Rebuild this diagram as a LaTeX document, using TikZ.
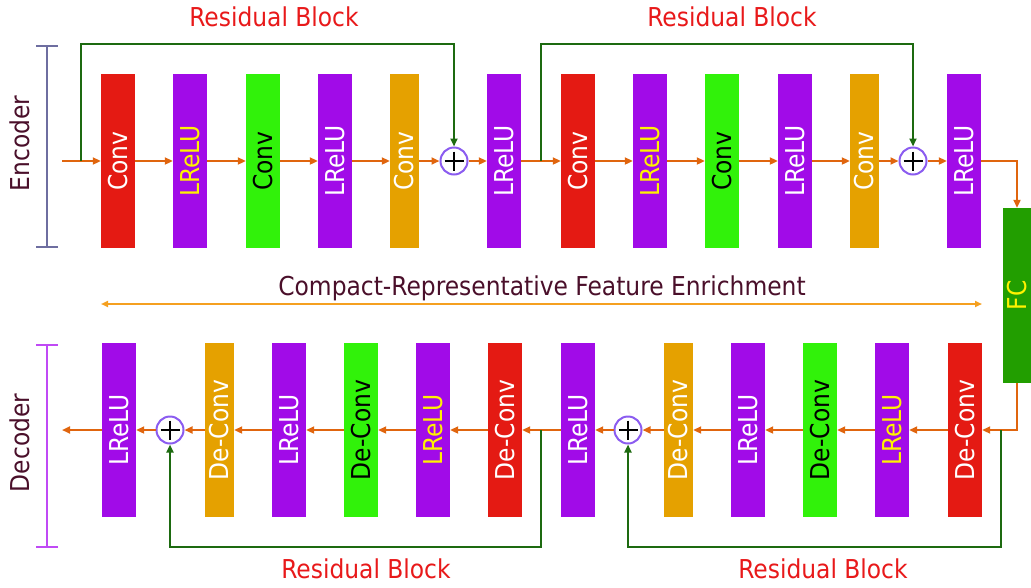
\documentclass[tikz,border=0pt]{standalone}
\usepackage{fontspec}
\setmainfont{DejaVu Sans Condensed}
\usetikzlibrary{arrows.meta}

\definecolor{convred}{HTML}{E41A13}
\definecolor{actpurple}{HTML}{A10BE8}
\definecolor{convgreen}{HTML}{31F20A}
\definecolor{convorange}{HTML}{E5A100}
\definecolor{fcgreen}{HTML}{229E00}
\definecolor{flowor}{HTML}{E0650E}
\definecolor{skipgreen}{HTML}{1D6A10}
\definecolor{sumblue}{HTML}{8B5CF0}
\definecolor{encbar}{HTML}{6E6EA0}
\definecolor{decbar}{HTML}{C04AF5}
\definecolor{enrichor}{HTML}{F5A020}
\definecolor{labelred}{HTML}{E8191A}
\definecolor{textmaroon}{HTML}{4A0F2A}

\begin{document}
\begin{tikzpicture}[x=1pt, y=-1pt, font=\fontsize{26}{30}\selectfont]
		\tikzstyle{Layer}	= [rectangle, rotate=90, minimum width=174pt, minimum height=34pt, inner sep=0pt, text=white]
		\tikzstyle{Red}		= [fill=convred]
		\tikzstyle{Purple}	= [fill=actpurple]
		\tikzstyle{Green}	= [fill=convgreen, text=black]
		\tikzstyle{Orange}	= [fill=convorange, minimum height=29pt]
		\tikzstyle{Yel}		= [text=yellow]
		\tikzstyle{Sum}		= [circle, draw=sumblue, line width=2pt, fill=white, minimum size=27pt, inner sep=0pt,
					   path picture={\draw[black, line width=1.4pt]
					   ([xshift=4pt]path picture bounding box.west) -- ([xshift=-4pt]path picture bounding box.east)
					   ([yshift=-4pt]path picture bounding box.north) -- ([yshift=4pt]path picture bounding box.south);}]
		\tikzstyle{Flow}	= [flowor, line width=2.2pt, -{Triangle[length=8pt, width=7pt]}]
		\tikzstyle{Skip}	= [skipgreen, line width=2.2pt, -{Triangle[length=8pt, width=7pt]}]
		\tikzstyle{Bar}		= [line width=2.2pt, {Bar[width=22pt]}-{Bar[width=22pt]}]
		\tikzstyle{Title}	= [text=labelred]

		\useasboundingbox (0,0) rectangle (1031,587);

		% encoder
		\node (e1) at (118, 161) [Layer, Red] {Conv};
		\node (e2) at (190, 161) [Layer, Purple, Yel] {LReLU};
		\node (e3) at (263, 161) [Layer, Green] {Conv};
		\node (e4) at (335, 161) [Layer, Purple] {LReLU};
		\node (e5) at (404.5, 161) [Layer, Orange] {Conv};
		\node (p1) at (454, 161) [Sum] {};
		\node (e6) at (504, 161) [Layer, Purple] {LReLU};
		\node (e7) at (578, 161) [Layer, Red] {Conv};
		\node (e8) at (650, 161) [Layer, Purple, Yel] {LReLU};
		\node (e9) at (722, 161) [Layer, Green] {Conv};
		\node (e10) at (795, 161) [Layer, Purple] {LReLU};
		\node (e11) at (864.5, 161) [Layer, Orange] {Conv};
		\node (p2) at (913, 161) [Sum] {};
		\node (e12) at (964, 161) [Layer, Purple] {LReLU};

		\node (fc) at (1017, 295.5) [Layer, fill=fcgreen, minimum width=175pt, minimum height=28pt, Yel] {FC};

		% decoder
		\node (d1) at (119, 430) [Layer, Purple] {LReLU};
		\node (p3) at (170, 430) [Sum] {};
		\node (d2) at (219.5, 430) [Layer, Orange] {De-Conv};
		\node (d3) at (289, 430) [Layer, Purple] {LReLU};
		\node (d4) at (361, 430) [Layer, Green] {De-Conv};
		\node (d5) at (433, 430) [Layer, Purple, Yel] {LReLU};
		\node (d6) at (505, 430) [Layer, Red] {De-Conv};
		\node (d7) at (578, 430) [Layer, Purple] {LReLU};
		\node (p4) at (628, 430) [Sum] {};
		\node (d8) at (678.5, 430) [Layer, Orange] {De-Conv};
		\node (d9) at (748, 430) [Layer, Purple] {LReLU};
		\node (d10) at (820, 430) [Layer, Green] {De-Conv};
		\node (d11) at (892, 430) [Layer, Purple, Yel] {LReLU};
		\node (d12) at (965, 430) [Layer, Red] {De-Conv};

		\coordinate (in) at (62, 161);
		\coordinate (out) at (62, 430);
		\coordinate (s1) at (81, 161);
		\coordinate (s2) at (541, 161);
		\coordinate (s3) at (1001, 430);
		\coordinate (s4) at (541, 430);

		% main flow
		\draw [Flow] (in) -- (e1);
		\draw [Flow] (e1) -- (e2);
		\draw [Flow] (e2) -- (e3);
		\draw [Flow] (e3) -- (e4);
		\draw [Flow] (e4) -- (e5);
		\draw [Flow] (e5) -- (p1);
		\draw [Flow] (p1) -- (e6);
		\draw [Flow] (e6) -- (e7);
		\draw [Flow] (e7) -- (e8);
		\draw [Flow] (e8) -- (e9);
		\draw [Flow] (e9) -- (e10);
		\draw [Flow] (e10) -- (e11);
		\draw [Flow] (e11) -- (p2);
		\draw [Flow] (p2) -- (e12);
		\draw [Flow] (e12) -| (fc);
		\draw [Flow] (fc) |- (d12);
		\draw [Flow] (d12) -- (d11);
		\draw [Flow] (d11) -- (d10);
		\draw [Flow] (d10) -- (d9);
		\draw [Flow] (d9) -- (d8);
		\draw [Flow] (d8) -- (p4);
		\draw [Flow] (p4) -- (d7);
		\draw [Flow] (d7) -- (d6);
		\draw [Flow] (d6) -- (d5);
		\draw [Flow] (d5) -- (d4);
		\draw [Flow] (d4) -- (d3);
		\draw [Flow] (d3) -- (d2);
		\draw [Flow] (d2) -- (p3);
		\draw [Flow] (p3) -- (d1);
		\draw [Flow] (d1) -- (out);

		% skips
		\draw [Skip] (s1) -- ++(0,-117) -| (p1);
		\draw [Skip] (s2) -- ++(0,-117) -| (p2);
		\draw [Skip] (s3) -- ++(0,117) -| (p4);
		\draw [Skip] (s4) -- ++(0,117) -| (p3);

		% labels
		\node (t1) at (274, 17) [Title] {Residual Block};
		\node (t2) at (732, 17) [Title] {Residual Block};
		\node (t3) at (366, 569) [Title] {Residual Block};
		\node (t4) at (823, 569) [Title] {Residual Block};

		\coordinate (eb1) at (47, 45);
		\coordinate (eb2) at (47, 248);
		\coordinate (db1) at (47, 344);
		\coordinate (db2) at (47, 548);
		\draw [Bar, encbar] (eb1) -- (eb2);
		\draw [Bar, decbar] (db1) -- (db2);
		\node (enc) at (20, 143.5) [rotate=90, text=textmaroon] {Encoder};
		\node (dec) at (20, 443) [rotate=90, text=textmaroon] {Decoder};

		\node (crf) at (542, 288) [text=textmaroon] {Compact-Representative Feature Enrichment};
		\coordinate (ca) at (101, 304);
		\coordinate (cb) at (982, 304);
		\draw [enrichor, line width=2pt, {Triangle[length=7pt, width=6pt]}-{Triangle[length=7pt, width=6pt]}] (ca) -- (cb);
	\end{tikzpicture}
\end{document}
